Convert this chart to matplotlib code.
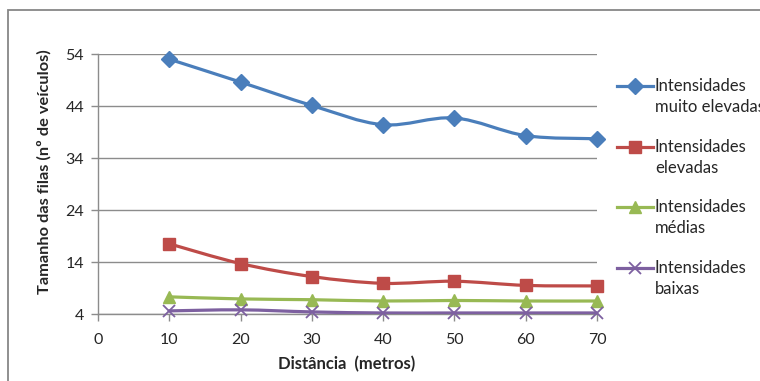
import numpy as np
import matplotlib
matplotlib.use("Agg")
import matplotlib.pyplot as plt
from matplotlib.path import Path
from matplotlib.patches import PathPatch, Rectangle
from matplotlib.lines import Line2D

plt.rcParams['font.family'] = ['Lato', 'DejaVu Sans']

distancia = [10, 20, 30, 40, 50, 60, 70]
muito_elevadas = [53.0, 48.6, 44.1, 40.4, 41.7, 38.3, 37.7]
elevadas = [17.5, 13.7, 11.2, 9.9, 10.3, 9.5, 9.4]
medias = [7.3, 6.9, 6.75, 6.5, 6.6, 6.5, 6.5]
baixas = [4.6, 4.8, 4.4, 4.2, 4.2, 4.2, 4.2]

series_labels = [("Intensidades", "muito elevadas"),
                 ("Intensidades", "elevadas"),
                 ("Intensidades", "médias"),
                 ("Intensidades", "baixas")]
y_ticks = [4, 14, 24, 34, 44, 54]
x_ticks = [0, 10, 20, 30, 40, 50, 60, 70]

colors = ["#4A7EBB", "#BE4B48", "#98B954", "#7D60A0"]
markers = ["D", "s", "^", "x"]
msizes = [8, 9, 9, 9]
text_color = "#262626"


def smooth_path(x, y):
    """Catmull-Rom style cubic Bezier through the points."""
    x = np.asarray(x, float)
    y = np.asarray(y, float)
    pts = np.column_stack([x, y])
    n = len(pts)
    verts = [pts[0]]
    codes = [Path.MOVETO]
    for i in range(n - 1):
        p0 = pts[i - 1] if i > 0 else pts[i]
        p1 = pts[i]
        p2 = pts[i + 1]
        p3 = pts[i + 2] if i + 2 < n else pts[i + 1]
        c1 = p1 + (p2 - p0) / 6.0
        c2 = p2 - (p3 - p1) / 6.0
        verts += [c1, c2, p2]
        codes += [Path.CURVE4] * 3
    return Path(verts, codes)


fig = plt.figure(figsize=(7.6, 3.81), dpi=100)
fig.patch.set_facecolor("white")

# outer chart frame
fig.add_artist(Rectangle((8 / 760, -0.1), 2.0, (381 - 10) / 381 + 0.1,
                         transform=fig.transFigure, fill=False,
                         edgecolor="#878787", linewidth=1.3))

ax = fig.add_axes([98 / 760, (381 - 314) / 381, 499 / 760, 260 / 381])
ax.set_xlim(0, 70)
ax.set_ylim(4, 54)

all_series = [muito_elevadas, elevadas, medias, baixas]
for vals, c, m, ms in zip(all_series, colors, markers, msizes):
    ax.add_patch(PathPatch(smooth_path(distancia, vals), facecolor="none",
                           edgecolor=c, linewidth=2.3, zorder=3,
                           capstyle="round", joinstyle="round"))
    if m == "x":
        ax.plot(distancia, vals, linestyle="none", marker=m, markersize=ms,
                markeredgecolor=c, markeredgewidth=1.3, zorder=4, clip_on=False)
    else:
        ax.plot(distancia, vals, linestyle="none", marker=m, markersize=ms,
                markerfacecolor=c, markeredgecolor=c, zorder=4, clip_on=False)

ax.set_yticks(y_ticks)
ax.set_xticks(x_ticks)
ax.set_yticklabels([str(v) for v in y_ticks])
ax.set_xticklabels([str(v) for v in x_ticks])
ax.grid(axis="y", color="#8C8C8C", linewidth=1.0)
ax.set_axisbelow(True)
for s in ["top", "right"]:
    ax.spines[s].set_visible(False)
for s in ["left", "bottom"]:
    ax.spines[s].set_color("#8C8C8C")
    ax.spines[s].set_linewidth(1.0)
ax.tick_params(axis="both", colors="#8C8C8C", labelcolor=text_color,
               labelsize=11.5, length=5, width=1.0)
ax.tick_params(axis="y", pad=5)
ax.tick_params(axis="x", pad=9)

ax.set_xlabel("Distância  (metros)", fontsize=12, fontweight="bold",
              color=text_color)
ax.xaxis.set_label_coords((347 - 98) / 499, -(364 - 314) / 260)
ax.xaxis.label.set_va("center")
ax.set_ylabel("Tamanho das filas (nº de veículos)", fontsize=11.8,
              fontweight="bold", color=text_color)
ax.yaxis.set_label_coords((44 - 98) / 499, (314 - 172) / 260)
ax.yaxis.label.set_va("center")

# legend entries, handle aligned with the first line of each label
leg_y = [86, 147, 207, 268]
for (l1, l2), c, m, ms, yy in zip(series_labels, colors, markers, msizes, leg_y):
    yf = 1 - yy / 381
    fig.add_artist(Line2D([617 / 760, 653 / 760], [yf, yf], transform=fig.transFigure,
                          color=c, linewidth=2.3))
    if m == "x":
        fig.add_artist(Line2D([635 / 760], [yf], transform=fig.transFigure,
                              marker=m, markersize=ms, markeredgecolor=c,
                              markeredgewidth=1.3, linestyle="none"))
    else:
        fig.add_artist(Line2D([635 / 760], [yf], transform=fig.transFigure,
                              marker=m, markersize=ms, markerfacecolor=c,
                              markeredgecolor=c, linestyle="none"))
    fig.text(655 / 760, yf, l1, fontsize=12.0, color=text_color, va="center", ha="left")
    fig.text(655 / 760, 1 - (yy + 21) / 381, l2, fontsize=12.0, color=text_color,
             va="center", ha="left")

fig.savefig("out.png", dpi=100, facecolor="white")
